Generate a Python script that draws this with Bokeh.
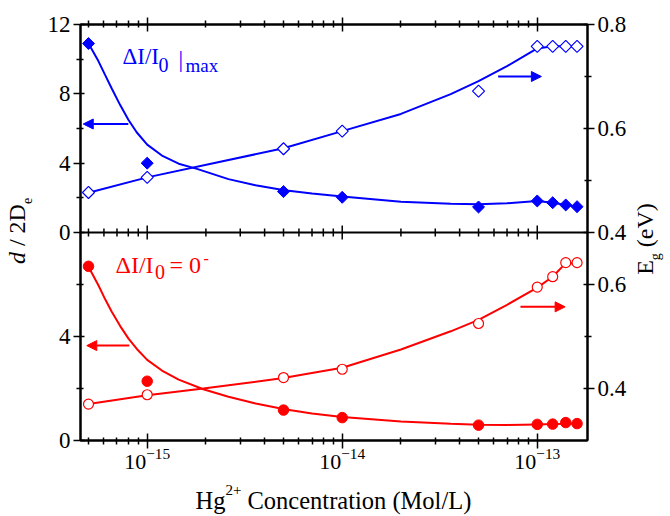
import math
from bokeh.plotting import figure
from bokeh.layouts import row, column
from bokeh.models import (Range1d, LinearAxis, LogAxis, FixedTicker, Span, Label,
                          Arrow, NormalHead, Div)
from bokeh.embed import file_html
from bokeh.resources import INLINE

# ---------------- data ----------------
conc = [5e-16, 1e-15, 5e-15, 1e-14, 5e-14, 1e-13, 1.2e-13, 1.4e-13, 1.6e-13]
d_max = [10.9, 4.0, 2.36, 2.03, 1.47, 1.82, 1.72, 1.59, 1.49]
eg_max = [0.477, 0.506, 0.561, 0.595, 0.672, 0.758, 0.758, 0.758, 0.758]
d_zero = [6.7, 2.28, 1.17, 0.88, 0.59, 0.62, 0.63, 0.69, 0.65]
eg_zero = [0.370, 0.388, 0.421, 0.437, 0.525, 0.595, 0.615, 0.642, 0.642]

# fitted curves
fit_dmax_x = [5e-16, 5.62e-16, 6.09e-16, 6.58e-16, 7.27e-16, 8.02e-16, 8.85e-16, 1e-15,
              1.19e-15, 1.45e-15, 1.8e-15, 2.61e-15, 3.59e-15, 5.06e-15, 7e-15, 1e-14,
              2e-14, 3.6e-14, 5e-14, 7e-14, 1e-13, 1.2e-13, 1.4e-13, 1.6e-13]
fit_dmax_y = [10.9, 9.89, 9.08, 8.31, 7.35, 6.49, 5.77, 5.07,
              4.44, 3.97, 3.67, 3.08, 2.73, 2.44, 2.25, 2.08,
              1.78, 1.66, 1.63, 1.69, 1.82, 1.72, 1.59, 1.49]
fit_egmax_x = [5e-16, 1e-15, 5e-15, 1e-14, 2e-14, 3.6e-14, 5e-14, 7e-14,
               1e-13, 1.2e-13, 1.4e-13, 1.6e-13]
fit_egmax_y = [0.4765, 0.506, 0.562, 0.595, 0.628, 0.666, 0.691, 0.720,
               0.754, 0.758, 0.758, 0.758]
fit_dzero_x = [5e-16, 5.62e-16, 6.09e-16, 6.58e-16, 7.27e-16, 8.02e-16, 8.85e-16, 1e-15,
               1.19e-15, 1.45e-15, 1.94e-15, 2.61e-15, 3.6e-15, 5.06e-15, 7e-15, 1e-14,
               2e-14, 3.6e-14, 5e-14, 7e-14, 1e-13, 1.2e-13, 1.4e-13, 1.6e-13]
fit_dzero_y = [6.68, 5.97, 5.43, 4.95, 4.40, 3.92, 3.52, 3.10,
               2.69, 2.34, 1.97, 1.68, 1.42, 1.20, 1.04, 0.90,
               0.73, 0.64, 0.61, 0.60, 0.62, 0.63, 0.64, 0.65]
fit_egzero_x = [5e-16, 1e-15, 1.94e-15, 5e-15, 6.1e-15, 1e-14, 2e-14, 3.6e-14, 5e-14,
                7e-14, 1e-13, 1.2e-13, 1.4e-13, 1.6e-13]
fit_egzero_y = [0.370, 0.387, 0.400, 0.420, 0.426, 0.440, 0.475, 0.510, 0.532,
                0.561, 0.594, 0.615, 0.641, 0.641]

# axes ticks
x_major = [1e-15, 1e-14, 1e-13]
x_minor_mant = [2, 3, 4, 5, 6, 7, 8, 9]
x_minor_dec = [-16, -15, -14]
top_left_ticks = [0, 4, 8, 12]
top_left_minor = [2, 6, 10]
bot_left_ticks = [0, 4]
bot_left_minor = [2, 6]
top_right_ticks = [0.4, 0.6, 0.8]
top_right_minor = [0.5, 0.7]
bot_right_ticks = [0.4, 0.6]
bot_right_minor = [0.5]

# arrows (x0, x1, y) in data units of their panel
arrow_dmax = (8.0e-16, 4.7e-16, 6.26)
arrow_egmax = (6.3e-14, 1.05e-13, 0.70)
arrow_dzero = (8.1e-16, 4.9e-16, 3.65)
arrow_egzero = (8.2e-14, 1.39e-13, 0.557)

BLUE = "#0000FF"
RED = "#FF0000"
FONT = "Liberation Serif"

# page layout: left title strip | main plot | right title strip, x-title strip below
W_LEFT, W_RIGHT, H_MAIN, H_BOTTOM = 42, 38, 480, 36
W_MAIN = 670 - W_LEFT - W_RIGHT

# ---------------- main figure ----------------
X_LO, X_HI = 4.55e-16, 1.81e-13
TL = Range1d(-12, 12)      # top-left panel 0..12 occupies upper half
BL = Range1d(0, 16)        # bottom-left panel 0..8 occupies lower half
TR = Range1d(0.0, 0.8)     # top-right panel 0.4..0.8 upper half
BR = Range1d(0.3, 1.1)     # bottom-right panel 0.3..0.7 lower half

p = figure(width=W_MAIN, height=H_MAIN, x_axis_type="log", x_range=Range1d(X_LO, X_HI),
           y_range=TL, output_backend="svg", toolbar_location=None,
           min_border_left=80 - W_LEFT, min_border_right=W_LEFT + W_MAIN - 587,
           min_border_top=24, min_border_bottom=H_MAIN - 440,
           background_fill_color="white", border_fill_color="white",
           outline_line_color="black", outline_line_width=2)
p.extra_y_ranges = {"bl": BL, "tr": TR, "br": BR}
p.grid.visible = False


def remap(v, src, dst):
    f = (v - src.start) / (src.end - src.start)
    return dst.start + f * (dst.end - dst.start)


def style_axis(ax, labels=True, size="23px"):
    ax.axis_line_width = 2
    ax.axis_line_color = "black"
    ax.major_tick_line_width = 1.5
    ax.minor_tick_line_width = 1.5
    ax.major_tick_line_color = "black"
    ax.minor_tick_line_color = "black"
    ax.major_label_text_font = FONT
    ax.major_label_text_color = "black"
    if labels:
        ax.major_label_text_font_size = size
    else:
        ax.major_label_text_font_size = "1px"
        ax.major_label_text_alpha = 0
        ax.major_label_standoff = 0


# x axes
x_minor = [m * 10.0 ** e for e in x_minor_dec for m in x_minor_mant
           if X_LO <= m * 10.0 ** e <= X_HI]
xb = p.xaxis[0]
xb.ticker = FixedTicker(ticks=x_major, minor_ticks=x_minor)
style_axis(xb, True, "22px")
xb.major_tick_in = 7
xb.major_tick_out = 8
xb.minor_tick_in = 3
xb.minor_tick_out = 4
xb.major_label_standoff = 0

xa = LogAxis(ticker=FixedTicker(ticks=x_major, minor_ticks=x_minor))
style_axis(xa, False)
xa.major_tick_in = 7
xa.major_tick_out = 7
xa.minor_tick_in = 3
xa.minor_tick_out = 4
p.add_layout(xa, "above")

# left axis: both panels on one axis
yl = p.yaxis[0]
l_ticks = [float(t) for t in top_left_ticks] + [remap(t, BL, TL) for t in bot_left_ticks]
l_minor = [float(t) for t in top_left_minor] + [remap(t, BL, TL) for t in bot_left_minor]
yl.ticker = FixedTicker(ticks=l_ticks, minor_ticks=l_minor)
overrides = {float(t): str(t) for t in top_left_ticks}
overrides.update({remap(t, BL, TL): str(t) for t in bot_left_ticks})
yl.major_label_overrides = overrides
style_axis(yl)
yl.major_tick_in = 4
yl.major_tick_out = 7
yl.minor_tick_in = 3
yl.minor_tick_out = 4
yl.major_label_standoff = 3

# right axis
yr = LinearAxis(y_range_name="tr")
r_ticks = list(top_right_ticks) + [remap(t, BR, TR) for t in bot_right_ticks]
r_minor = list(top_right_minor) + [remap(t, BR, TR) for t in bot_right_minor]
yr.ticker = FixedTicker(ticks=r_ticks, minor_ticks=r_minor)
ro = {t: f"{t:.1f}" for t in top_right_ticks}
ro.update({remap(t, BR, TR): f"{t:.1f}" for t in bot_right_ticks})
yr.major_label_overrides = ro
style_axis(yr)
yr.major_tick_in = 4
yr.major_tick_out = 7
yr.minor_tick_in = 3
yr.minor_tick_out = 4
yr.major_label_standoff = 3
p.add_layout(yr, "right")

# junction between the panels
p.add_layout(Span(location=0, dimension="width", line_color="black", line_width=2))
p.scatter(x=x_major, y=[0] * len(x_major), marker="dash", angle=math.pi / 2, size=14,
          line_color="black", line_width=1.5)
p.scatter(x=x_minor, y=[0] * len(x_minor), marker="dash", angle=math.pi / 2, size=8,
          line_color="black", line_width=1.5)

# ---------------- curves ----------------
p.line(fit_dmax_x, fit_dmax_y, line_color=BLUE, line_width=2)
p.line(fit_egmax_x, fit_egmax_y, line_color=BLUE, line_width=2, y_range_name="tr")
p.line(fit_dzero_x, fit_dzero_y, line_color=RED, line_width=2, y_range_name="bl")
p.line(fit_egzero_x, fit_egzero_y, line_color=RED, line_width=2, y_range_name="br")

# ---------------- markers ----------------
p.scatter(conc, d_max, marker="square", angle=math.pi / 4, size=8.5,
          fill_color=BLUE, line_color=BLUE, line_width=1)
p.scatter(conc, eg_max, marker="square", angle=math.pi / 4, size=8.5,
          fill_color="white", line_color=BLUE, line_width=1.2, y_range_name="tr")
p.scatter(conc, d_zero, marker="circle", size=10.5,
          fill_color=RED, line_color=RED, line_width=1, y_range_name="bl")
p.scatter(conc, eg_zero, marker="circle", size=10,
          fill_color="white", line_color=RED, line_width=1.2, y_range_name="br")

# ---------------- arrows ----------------
for (x0, x1, yv), col, rng in [(arrow_dmax, BLUE, "default"), (arrow_egmax, BLUE, "tr"),
                               (arrow_dzero, RED, "bl"), (arrow_egzero, RED, "br")]:
    p.add_layout(Arrow(end=NormalHead(size=10, fill_color=col, line_color=col, line_width=1),
                       x_start=x0, y_start=yv, x_end=x1, y_end=yv,
                       line_color=col, line_width=2, y_range_name=rng))


# ---------------- texts ----------------
def txt(fig, ox, oy, s, X, Y, size, color="black", style="normal"):
    """Place a text piece; (X, Y) is the page position of its left end and vertical
    middle; (ox, oy) is the page position of the lower-left corner of fig's frame."""
    fig.add_layout(Label(x=X - ox, y=oy - Y, x_units="screen", y_units="screen",
                         text=s, text_font=FONT, text_font_size=f"{size}px",
                         text_color=color, text_font_style=style,
                         text_baseline="middle", text_align="left"))


M = 0.34   # em-box middle above the baseline
# blue annotation (baselines 64 / 71)
txt(p, 80, 440, "\u0394I/I", 122, 64 - M * 23, 23, BLUE)
txt(p, 80, 440, "0", 158, 71 - M * 20, 20, BLUE)
txt(p, 80, 440, "|", 178, 67 - M * 23, 23, BLUE)
txt(p, 80, 440, "max", 185, 71 - M * 19, 19, BLUE)
# red annotation (baselines 273 / 278)
txt(p, 80, 440, "\u0394I/I", 115, 273 - M * 24, 24, RED)
txt(p, 80, 440, "0", 154.5, 278 - M * 20, 20, RED)
txt(p, 80, 440, "= 0", 169, 273 - M * 24, 24, RED)
txt(p, 80, 440, "-", 203, 263 - M * 16, 16, RED)


def rotated_title(w, h, cx, cy, inner_html):
    """A strip holding one vertical (bottom-to-top) title centred at (cx, cy)."""
    html = (f'<div style="position:relative;width:{w}px;height:{h}px;">'
            f'<div style="position:absolute;left:{cx}px;top:{cy}px;'
            f'transform:translate(-50%,-50%) rotate(-90deg);white-space:nowrap;'
            f"font-family:'{FONT}';font-size:24px;line-height:24px;color:black;\">"
            f'{inner_html}</div></div>')
    return Div(text=html, width=w, height=h, margin=0)


SUB = 'font-size:14px;position:relative;top:7px;'
left = rotated_title(W_LEFT, H_MAIN, 18.9, 230.9,
                     f'<i>d</i> / 2D<span style="{SUB}">e</span>')
right = rotated_title(W_RIGHT, H_MAIN, 646.9 - (W_LEFT + W_MAIN), 239.2,
                      f'E<span style="{SUB}">g</span> (eV)')


def strip(w, h):
    f = figure(width=w, height=h, x_range=Range1d(0, 1), y_range=Range1d(0, 1),
               output_backend="svg", toolbar_location=None, min_border=0,
               x_axis_location=None, y_axis_location=None, outline_line_color=None,
               background_fill_color="white", border_fill_color="white")
    f.grid.visible = False
    return f


# bottom title strip: "Hg2+ Concentration (Mol/L)"
bottom = strip(670, H_BOTTOM)
txt(bottom, 0, 516, "Hg", 195, 508 - M * 24.5, 24.5)
txt(bottom, 0, 516, "2+", 225, 495 - M * 15, 15)
txt(bottom, 0, 516, "Concentration (Mol/L)", 247, 508 - M * 24.5, 24.5)

layout = column(row(left, p, right), bottom)
open("out.html", "w").write(file_html(layout, INLINE))
